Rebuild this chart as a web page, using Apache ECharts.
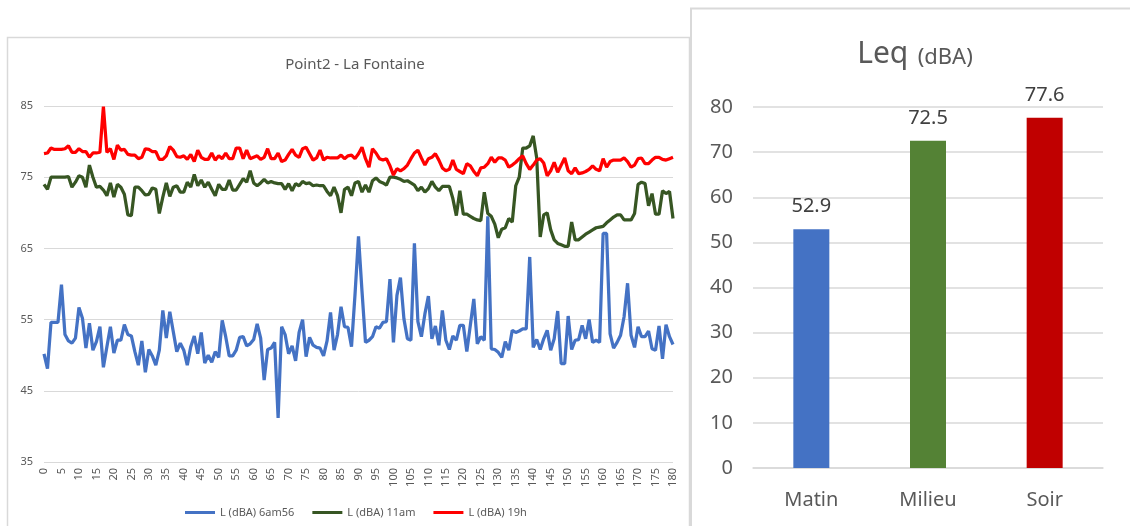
<!DOCTYPE html>
<html lang="fr">
<head>
    <meta charset="UTF-8">
    <title>Point2 - La Fontaine</title>
    <script src="https://cdn.jsdelivr.net/npm/echarts@6/dist/echarts.min.js"></script>
    <style>
        html, body { margin: 0; padding: 0; background: #ffffff; }
        #main { width: 1130px; height: 526px; }
    </style>
</head>
<body>
<div id="main"></div>
<script type="text/javascript">
    // Niveaux relevés minute par minute (0 -> 180)
    var niveau_6am56 = [
        50.2, 48.1, 54.6, 54.6, 54.6, 59.9, 52.9, 52.0, 51.7, 52.4,
        56.7, 55.2, 51.0, 54.5, 50.7, 51.9, 54.0, 48.3, 51.2, 54.0,
        50.3, 52.1, 52.1, 54.3, 52.9, 52.7, 50.5, 48.6, 52.0, 47.6,
        50.8, 49.9, 48.6, 50.7, 56.3, 52.4, 56.1, 53.3, 50.5, 51.7,
        50.7, 48.6, 51.2, 52.7, 50.2, 53.2, 48.9, 50.0, 49.0, 50.5,
        49.7, 54.9, 52.6, 49.9, 49.9, 50.7, 52.5, 52.6, 51.3, 51.6,
        52.2, 54.4, 52.4, 46.5, 50.8, 51.0, 51.8, 41.2, 54.0, 52.9,
        50.2, 51.3, 49.2, 53.2, 55.0, 49.8, 52.5, 51.4, 51.1, 51.0,
        49.9, 52.0, 56.0, 50.7, 52.9, 56.8, 54.0, 53.9, 51.2, 58.5,
        66.7, 59.0, 51.8, 52.1, 52.6, 54.0, 53.8, 54.6, 54.7, 60.7,
        51.8, 58.4, 60.9, 55.1, 52.3, 52.1, 65.7, 54.7, 52.6, 55.8,
        58.3, 52.3, 54.1, 51.4, 56.3, 52.1, 50.8, 52.7, 52.1, 54.2,
        54.2, 50.5, 54.2, 57.9, 51.6, 52.6, 52.1, 69.5, 50.9, 50.8,
        50.4, 49.7, 51.9, 50.7, 53.5, 53.2, 53.4, 53.7, 53.7, 63.8,
        51.1, 52.2, 50.8, 52.3, 53.5, 50.7, 52.3, 56.2, 48.8, 48.8,
        55.5, 50.8, 52.1, 52.2, 54.2, 52.3, 55.0, 51.8, 52.1, 51.8,
        67.1, 67.1, 53.0, 51.0, 51.8, 52.8, 55.4, 60.1, 52.8, 51.1,
        54.0, 52.6, 52.6, 53.4, 50.9, 50.7, 54.1, 49.5, 54.3, 52.6,
        51.5
    ];

    var niveau_11am = [
        74.0, 73.3, 75.0, 75.0, 75.0, 75.0, 75.0, 75.1, 73.6, 74.3,
        75.2, 75.0, 73.6, 76.7, 75.0, 73.6, 73.7, 73.2, 72.4, 74.2,
        72.2, 74.0, 73.6, 72.6, 69.7, 69.6, 73.6, 73.6, 73.1, 72.5,
        72.6, 73.5, 73.3, 69.9, 72.2, 74.2, 72.3, 73.6, 73.8, 72.9,
        72.9, 74.3, 73.6, 75.4, 73.8, 74.6, 73.6, 74.3, 73.3, 72.4,
        74.0, 73.3, 73.3, 74.6, 73.2, 73.2, 74.0, 74.8, 74.3, 75.9,
        74.2, 73.8, 74.2, 74.7, 74.2, 74.4, 74.2, 74.1, 74.1, 73.3,
        74.1, 73.1, 74.1, 73.8, 74.4, 74.1, 74.2, 73.8, 73.9, 73.8,
        73.8, 73.0, 72.4, 73.6, 72.4, 70.0, 73.3, 73.6, 72.4, 74.2,
        74.4, 72.9, 73.9, 72.9, 74.5, 74.9, 74.4, 74.2, 73.9, 75.0,
        75.0, 74.9, 74.7, 74.4, 74.5, 74.2, 73.9, 73.1, 73.6, 72.9,
        73.4, 74.4, 73.6, 73.1, 73.7, 73.7, 73.7, 72.0, 69.6, 73.1,
        69.8, 69.8, 69.5, 69.2, 69.0, 68.9, 72.9, 69.9, 69.5, 68.4,
        66.5, 67.7, 67.9, 69.2, 68.7, 73.8, 75.0, 79.1, 79.1, 79.4,
        80.8, 77.7, 66.6, 69.7, 70.0, 67.6, 66.2, 65.7, 65.5, 65.3,
        65.3, 68.7, 66.2, 66.2, 66.6, 67.0, 67.3, 67.6, 67.9, 68.0,
        68.1, 68.6, 69.0, 69.4, 69.7, 69.7, 69.0, 69.0, 69.0, 69.9,
        74.0, 74.3, 74.1, 71.0, 72.7, 69.8, 69.8, 73.1, 72.7, 73.0,
        69.2
    ];

    var niveau_19h = [
        78.3, 78.4, 79.1, 78.9, 78.9, 78.9, 79.0, 79.4, 78.5, 78.5,
        79.0, 78.6, 78.6, 77.8, 78.4, 78.4, 78.5, 84.9, 78.5, 79.0,
        77.5, 79.5, 78.8, 78.9, 78.2, 78.1, 78.1, 77.6, 77.8, 79.0,
        78.9, 78.6, 78.6, 77.5, 77.5, 78.0, 79.3, 78.8, 77.9, 77.8,
        78.0, 77.5, 78.2, 77.2, 78.8, 77.8, 77.5, 77.5, 78.4, 77.4,
        78.0, 77.6, 78.4, 77.6, 77.6, 79.1, 79.1, 77.6, 78.8, 77.6,
        77.8, 78.0, 77.5, 77.8, 79.0, 77.6, 77.6, 78.4, 77.2, 77.4,
        78.2, 78.9, 78.1, 77.8, 79.0, 79.2, 78.3, 77.4, 77.7, 78.8,
        77.4, 77.8, 77.7, 77.7, 77.7, 78.1, 77.6, 78.0, 78.1, 77.6,
        78.3, 79.2, 77.6, 76.4, 79.0, 78.4, 77.6, 77.4, 77.6, 76.6,
        75.3, 76.2, 75.9, 76.2, 76.7, 77.6, 78.4, 78.8, 77.7, 76.7,
        77.6, 77.8, 78.3, 77.4, 76.3, 75.9, 76.1, 77.4, 76.1, 75.8,
        75.5, 76.9, 76.6, 75.8, 75.2, 76.3, 76.4, 76.9, 77.8, 77.1,
        77.7, 77.7, 77.4, 76.4, 76.7, 77.1, 77.6, 78.0, 76.9, 76.1,
        76.7, 77.4, 77.6, 77.0, 75.2, 75.9, 77.1, 75.7, 76.7, 77.7,
        75.9, 75.5, 76.3, 75.5, 75.6, 75.8, 76.1, 76.6, 76.1, 75.9,
        77.6, 76.4, 77.2, 77.4, 77.4, 77.4, 77.7, 77.2, 76.4, 76.7,
        77.6, 77.7, 76.9, 76.9, 77.4, 77.8, 77.8, 77.5, 77.4, 77.6,
        77.8
    ];

    // Leq par période
    var periodes = ['Matin', 'Milieu', 'Soir'];
    var leq_values = [52.9, 72.5, 77.6];
    var leq_colors = ['#4472C4', '#548235', '#C00000'];

    // axe des minutes : 0, 1, 2 ... 180
    var minutes = [];
    for (var m = 0; m < niveau_6am56.length; m++) {
        minutes.push(String(m));
    }

    var font = '"Noto Sans", "Open Sans", sans-serif';
    var grey_text = '#595959';
    var grey_line = '#D9D9D9';

    var myChart = echarts.init(document.getElementById('main'), null, {renderer: 'canvas'});

    function Set_option() {
        var bar_data = [];
        for (var i = 0; i < leq_values.length; i++) {
            bar_data.push({value: leq_values[i], itemStyle: {color: leq_colors[i]}});
        }

        var option = {
            backgroundColor: '#ffffff',
            textStyle: {fontFamily: font},
            animation: false,
            // cadres des deux graphiques
            graphic: [
                {
                    type: 'rect', z: -10,
                    shape: {x: 7.5, y: 37.5, width: 682, height: 520},
                    style: {fill: '#ffffff', stroke: grey_line, lineWidth: 1.5}
                },
                {
                    type: 'rect', z: -9,
                    shape: {x: 691, y: 8.5, width: 460, height: 540},
                    style: {fill: '#ffffff', stroke: grey_line, lineWidth: 2}
                }
            ],
            title: [
                {
                    text: 'Point2 - La Fontaine',
                    left: 350, top: 52, textAlign: 'center',
                    textStyle: {fontFamily: font, fontSize: 15, fontWeight: 'normal', color: grey_text}
                },
                {
                    text: '{a|Leq}  {b|(dBA)}',
                    left: 910, top: 24, textAlign: 'center',
                    textStyle: {
                        fontFamily: font, fontWeight: 'normal', color: grey_text,
                        rich: {
                            a: {fontFamily: font, fontSize: 30, fontWeight: 'normal', color: grey_text,
                                lineHeight: 40, verticalAlign: 'bottom'},
                            b: {fontFamily: font, fontSize: 22, fontWeight: 'normal', color: grey_text,
                                lineHeight: 40, verticalAlign: 'bottom'}
                        }
                    }
                }
            ],
            legend: {
                left: 180, top: 502,
                itemWidth: 30, itemHeight: 3, itemGap: 18,
                icon: 'rect',
                textStyle: {fontFamily: font, fontSize: 11, color: grey_text},
                data: ['L (dBA) 6am56', 'L (dBA) 11am', 'L (dBA) 19h']
            },
            grid: [
                {left: 44, top: 106, width: 629, height: 356},
                {left: 753, top: 107, width: 350, height: 361}
            ],
            xAxis: [
                {
                    gridIndex: 0, type: 'category', data: minutes, boundaryGap: false,
                    axisLine: {show: false},
                    axisTick: {show: false},
                    axisLabel: {interval: 4, rotate: 90, fontSize: 11, color: grey_text, margin: 6}
                },
                {
                    gridIndex: 1, type: 'category', data: periodes,
                    axisLine: {lineStyle: {color: grey_line, width: 1.5}},
                    axisTick: {show: false},
                    axisLabel: {fontSize: 20, color: grey_text, margin: 22}
                }
            ],
            yAxis: [
                {
                    gridIndex: 0, type: 'value', min: 35, max: 85, interval: 10,
                    axisLine: {show: false}, axisTick: {show: false},
                    axisLabel: {fontSize: 11, color: grey_text, margin: 11},
                    splitLine: {lineStyle: {color: grey_line, width: 1}}
                },
                {
                    gridIndex: 1, type: 'value', min: 0, max: 80, interval: 10,
                    axisLine: {show: false}, axisTick: {show: false},
                    axisLabel: {fontSize: 20, color: grey_text, margin: 20},
                    splitLine: {lineStyle: {color: grey_line, width: 1.5}}
                }
            ],
            series: [
                {
                    name: 'L (dBA) 6am56', type: 'line', xAxisIndex: 0, yAxisIndex: 0,
                    data: niveau_6am56, showSymbol: false, symbol: 'none',
                    itemStyle: {color: '#4472C4'},
                    lineStyle: {color: '#4472C4', width: 3.25}
                },
                {
                    name: 'L (dBA) 11am', type: 'line', xAxisIndex: 0, yAxisIndex: 0,
                    data: niveau_11am, showSymbol: false, symbol: 'none',
                    itemStyle: {color: '#375623'},
                    lineStyle: {color: '#375623', width: 3.25}
                },
                {
                    name: 'L (dBA) 19h', type: 'line', xAxisIndex: 0, yAxisIndex: 0,
                    data: niveau_19h, showSymbol: false, symbol: 'none',
                    itemStyle: {color: '#FF0000'},
                    lineStyle: {color: '#FF0000', width: 3.25}
                },
                {
                    name: 'Leq', type: 'bar', xAxisIndex: 1, yAxisIndex: 1,
                    data: bar_data, barWidth: 36,
                    label: {
                        show: true, position: 'top', distance: 13,
                        fontFamily: font, fontSize: 20, color: '#404040'
                    }
                }
            ]
        };

        return option;
    }

    myChart.setOption(Set_option());
</script>
</body>
</html>
